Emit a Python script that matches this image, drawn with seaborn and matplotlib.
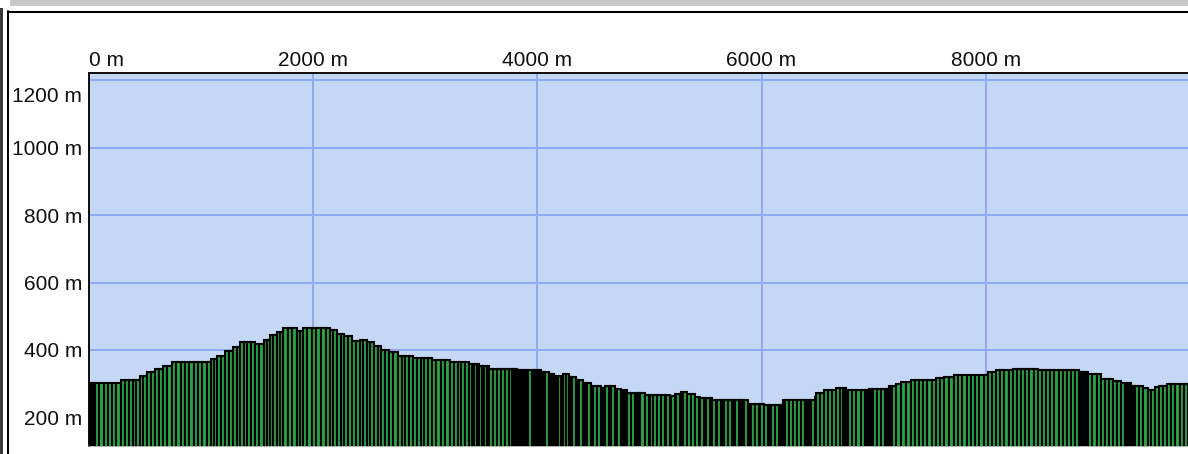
import numpy as np
import pandas as pd
import matplotlib
matplotlib.use("Agg")
import matplotlib.pyplot as plt
from matplotlib.patches import Rectangle
from matplotlib.lines import Line2D
from matplotlib.transforms import ScaledTranslation
import seaborn as sns

# ---------------- data ----------------
# distance of each profile sample along the track (m) and its elevation (m)
distance_m = [
    0, 18, 36, 54, 92, 130, 168, 206, 245,
    285, 320, 355, 390, 422,
    455, 486, 517, 553, 589, 625, 660, 700,
    740, 779, 818, 857, 895, 934, 973, 1011, 1050,
    1088, 1115, 1142, 1178, 1213, 1249, 1284, 1316,
    1347, 1381, 1414, 1448, 1481, 1521, 1561, 1588,
    1615, 1646, 1677, 1704, 1730, 1772, 1813, 1855, 1882,
    1909, 1949, 1989, 2029, 2070, 2110, 2150, 2181,
    2212, 2244, 2275, 2311, 2346, 2382, 2417, 2449,
    2480, 2511, 2542, 2574, 2605, 2641, 2676, 2716,
    2756, 2790, 2823, 2857, 2890, 2924, 2958, 2992, 3026,
    3060, 3100, 3140, 3180, 3220, 3254, 3288, 3322, 3356,
    3390, 3420, 3435, 3465, 3479, 3509, 3524, 3554,
    3568, 3604, 3640, 3676, 3712, 3748, 3773, 3788, 3803,
    3818, 3836, 3854, 3872, 3890,
    3907, 3920, 3951, 3969, 3987, 4005, 4018,
    4032, 4050, 4070, 4103, 4121, 4136,
    4148, 4166, 4180, 4211, 4228, 4259,
    4282, 4300, 4313, 4344, 4358, 4374,
    4404, 4422, 4445, 4475, 4499, 4534,
    4564, 4582, 4606, 4636, 4659, 4689, 4713,
    4743, 4761, 4779, 4802, 4837, 4867, 4885, 4903, 4918,
    4962, 4992, 5007, 5034, 5069, 5105, 5135, 5150,
    5180, 5194, 5224, 5239, 5269, 5284, 5301, 5337, 5373,
    5408, 5438, 5453, 5491, 5506, 5536,
    5560, 5590, 5605, 5635, 5652, 5667, 5703, 5733, 5750, 5765, 5795, 5812, 5829, 5845,
    5875, 5891, 5908, 5944, 5974, 5988,
    6024, 6054, 6070, 6086, 6122, 6152, 6170,
    6190, 6211, 6247, 6283, 6318, 6354, 6384, 6402, 6420, 6443,
    6473, 6488, 6523,
    6556, 6592, 6628, 6663, 6699, 6726, 6741,
    6756, 6770, 6808, 6846, 6884, 6922, 6940,
    6958, 6976, 6993, 7031, 7069, 7105, 7120,
    7136, 7150, 7163, 7198, 7243, 7288,
    7332, 7369, 7406, 7443, 7480, 7517, 7555, 7591, 7627, 7671,
    7716, 7754, 7792, 7830, 7868, 7905, 7943, 7981,
    8019, 8055, 8091, 8129, 8167, 8205,
    8242, 8279, 8316, 8353, 8390, 8428,
    8465, 8502, 8539, 8576, 8613, 8650, 8687, 8724, 8761, 8798,
    8831, 8847, 8863, 8879, 8895,
    8911, 8950, 8989, 9027, 9063, 9099, 9134, 9170,
    9205, 9241, 9259, 9277, 9295, 9313, 9330, 9366,
    9402, 9446, 9478, 9509, 9544, 9580,
    9616, 9654, 9692, 9730, 9768, 9806, 9844,
]
elevation_m = [
    303, 303, 303, 303, 303, 303, 303, 303, 303,
    311, 311, 311, 311, 311,
    323, 323, 335, 335, 345, 345, 353, 353,
    365, 365, 365, 365, 365, 365, 365, 365, 365,
    373, 373, 383, 383, 396, 396, 408, 408,
    425, 425, 425, 425, 418, 418, 431, 431,
    443, 443, 453, 453, 465, 465, 465, 456, 456,
    465, 465, 465, 465, 465, 465, 458, 458,
    448, 448, 440, 440, 428, 428, 431, 431,
    423, 423, 413, 413, 401, 401, 395, 395,
    383, 383, 383, 383, 375, 375, 375, 375, 375,
    369, 369, 369, 369, 365, 365, 365, 365, 365,
    358, 358, 358, 358, 351, 351, 351, 351,
    345, 345, 345, 345, 345, 345, 345, 345, 345,
    340, 340, 340, 340, 340,
    341, 341, 341, 341, 341, 341, 341,
    336, 336, 336, 328, 328, 328,
    323, 323, 323, 323, 328, 328,
    321, 321, 321, 311, 311, 311,
    303, 303, 303, 293, 293, 293,
    288, 288, 293, 293, 293, 285, 285,
    281, 281, 281, 273, 273, 273, 273, 273, 273,
    266, 266, 266, 266, 266, 266, 266, 266,
    263, 263, 270, 270, 270, 275, 275, 268, 268,
    261, 261, 256, 256, 256, 256,
    251, 251, 251, 251, 251, 251, 251, 251, 251, 251, 251, 251, 251, 251,
    241, 241, 241, 241, 241, 241,
    237, 237, 237, 237, 237, 237, 237,
    251, 251, 251, 251, 251, 251, 251, 251, 251, 251,
    261, 273, 273,
    281, 281, 281, 286, 286, 286, 286,
    281, 281, 281, 281, 281, 281, 281,
    285, 285, 285, 285, 285, 285, 285,
    293, 293, 293, 299, 305, 305,
    310, 310, 310, 310, 310, 310, 316, 316, 321, 321,
    327, 327, 327, 327, 327, 327, 327, 327,
    335, 335, 340, 340, 340, 340,
    345, 345, 345, 345, 345, 345,
    340, 340, 340, 340, 340, 340, 340, 340, 340, 340,
    335, 335, 335, 335, 335,
    328, 328, 328, 315, 315, 315, 309, 309,
    303, 303, 303, 303, 293, 293, 293, 293,
    286, 280, 280, 291, 293, 293,
    300, 300, 300, 300, 300, 300, 300,
]
track_end_m = 9880

x_ticks = [0, 2000, 4000, 6000, 8000]
x_tick_labels = ["0 m", "2000 m", "4000 m", "6000 m", "8000 m"]
y_ticks = [200, 400, 600, 800, 1000, 1200]
y_tick_labels = ["200 m", "400 m", "600 m", "800 m", "1000 m", "1200 m"]

df = pd.DataFrame({"distance": distance_m, "elevation": elevation_m})
bin_edges = list(distance_m) + [track_end_m]

# ---------------- styling ----------------
sns.set_style("white")
plt.rcParams["font.family"] = ["Liberation Sans", "DejaVu Sans"]

W, H, DPI = 1188, 454, 100
fig = plt.figure(figsize=(W / DPI, H / DPI), dpi=DPI, facecolor="white")

px = lambda v: v * 72.0 / DPI  # pixels -> points

left_px, right_px, top_px, bottom_px = 89, 1188, 73, 446
ax = fig.add_axes([left_px / W, 1 - bottom_px / H,
                   (right_px - left_px) / W, (bottom_px - top_px) / H])
ax.set_facecolor("#c4d8f6")

sns.histplot(data=df, x="distance", weights="elevation", bins=bin_edges,
             stat="count", element="bars", fill=True, color="#2aa444",
             edgecolor="black", linewidth=px(2.1), alpha=1.0, ax=ax, zorder=3)

ax.set_xlim(0, 9805)
ax.set_ylim(115, 1222)
ax.set_xlabel("")
ax.set_ylabel("")

ax.set_axisbelow(True)
ax.grid(True, color="#8eaaf3", linewidth=px(2.0))

ax.xaxis.tick_top()
ax.set_xticks(x_ticks)
ax.set_xticklabels(x_tick_labels)
ax.set_yticks(y_ticks)
ax.set_yticklabels(y_tick_labels)
ax.tick_params(axis="both", length=0, labelsize=15, colors="#111111")
ax.tick_params(axis="x", pad=px(3.5))
ax.tick_params(axis="y", pad=px(7))

# first x label starts at the axis edge, top y label sits inside the frame
xl = ax.get_xticklabels()
xl[0].set_horizontalalignment("left")
yl = ax.get_yticklabels()
yl[-1].set_transform(yl[-1].get_transform() +
                     ScaledTranslation(0, -14.5 / DPI, fig.dpi_scale_trans))

for side in ("top", "left"):
    ax.spines[side].set_color("#111111")
    ax.spines[side].set_linewidth(px(2.0))
ax.spines["bottom"].set_color("#9a9a9a")
ax.spines["bottom"].set_linewidth(px(1.5))
ax.spines["right"].set_visible(False)

# window frame decoration
fig.add_artist(Rectangle((10 / W, 1 - 6 / H), 1 - 10 / W, 6 / H,
                         transform=fig.transFigure, color="#c8c8c8", lw=0))
fig.add_artist(Rectangle((0, 0), 3 / W, 1 - 8 / H,
                         transform=fig.transFigure, color="#3a3a3a", lw=0))
fig.add_artist(Line2D([7.5 / W, 1], [1 - 12 / H, 1 - 12 / H],
                      transform=fig.transFigure, color="black", lw=px(2)))
fig.add_artist(Line2D([8.3 / W, 8.3 / W], [0, 1 - 11 / H],
                      transform=fig.transFigure, color="black", lw=px(2)))

fig.savefig("out.png", dpi=DPI, facecolor="white")
